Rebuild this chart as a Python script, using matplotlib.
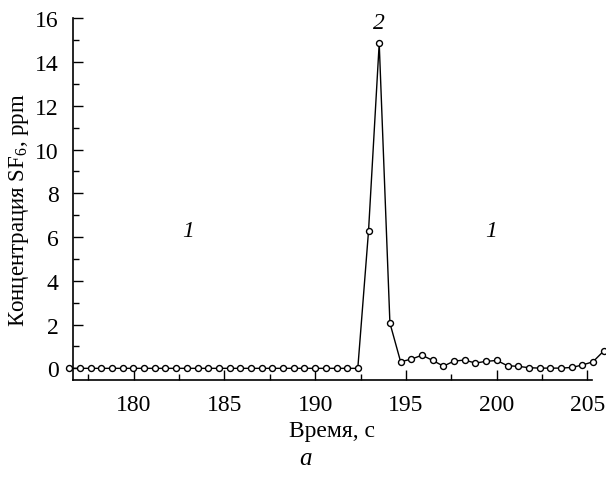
import matplotlib
matplotlib.use("Agg")
from matplotlib import pyplot as plt
from matplotlib.ticker import MultipleLocator

plt.rcParams['font.family'] = ['Liberation Serif', 'DejaVu Serif']
plt.rcParams['mathtext.fontset'] = 'custom'
plt.rcParams['mathtext.rm'] = 'Liberation Serif'
plt.rcParams['mathtext.it'] = 'Liberation Serif:italic'

# время, с
vremya = [176.45, 177.04, 177.63, 178.22, 178.81, 179.40, 179.98, 180.57,
          181.16, 181.75, 182.34, 182.93, 183.52, 184.11, 184.70, 185.29,
          185.87, 186.46, 187.05, 187.64, 188.23, 188.82, 189.41, 190.00,
          190.59, 191.18, 191.76, 192.35, 192.94, 193.53, 194.12, 194.71,
          195.30, 195.89, 196.48, 197.07, 197.65, 198.24, 198.83, 199.42,
          200.01, 200.60, 201.19, 201.78, 202.37, 202.96, 203.54, 204.13,
          204.72, 205.31, 205.90]
# концентрация SF6, ppm
konc = [0.0, 0.0, 0.0, 0.0, 0.0, 0.0, 0.0, 0.0,
        0.0, 0.0, 0.0, 0.0, 0.0, 0.0, 0.0, 0.0,
        0.0, 0.0, 0.0, 0.0, 0.0, 0.0, 0.0, 0.0,
        0.0, 0.0, 0.0, 0.0, 6.26, 14.86, 2.07, 0.30,
        0.42, 0.60, 0.36, 0.10, 0.33, 0.38, 0.24, 0.32,
        0.36, 0.12, 0.09, 0.03, 0.01, 0.01, 0.01, 0.04,
        0.15, 0.30, 0.79]

xticks = [180, 185, 190, 195, 200, 205]
yticks = [0, 2, 4, 6, 8, 10, 12, 14, 16]

fig = plt.figure(figsize=(6.06, 4.81), dpi=100)
ax = fig.add_axes([0.120, 0.2085, 0.8564, 0.7514])

ax.plot(vremya, konc, color='black', linewidth=1.0, marker='o', markersize=4.3,
        markerfacecolor='white', markeredgecolor='black', markeredgewidth=1.0,
        clip_on=False, zorder=3)

ax.set_xlim(176.64, 205.24)
ax.set_ylim(-0.52, 16)
ax.set_xticks(xticks)
ax.set_yticks(yticks)
ax.xaxis.set_minor_locator(MultipleLocator(2.5))
ax.yaxis.set_minor_locator(MultipleLocator(1))
ax.tick_params(which='major', direction='in', length=7, width=1.0, labelsize=17, pad=10)
ax.tick_params(which='minor', direction='in', length=4, width=1.0)
ax.spines['top'].set_visible(False)
ax.spines['right'].set_visible(False)
for s in ('left', 'bottom'):
    ax.spines[s].set_linewidth(1.2)

ax.set_xlabel('Время, с', fontsize=17, labelpad=4)
ax.set_ylabel('Концентрация SF$_6$, ppm', fontsize=16.5)
ax.yaxis.set_label_coords(-0.08, 0.472)

ax.text(183.0, 6.3, '1', fontsize=17, style='italic', ha='center', va='center')
ax.text(199.7, 6.3, '1', fontsize=17, style='italic', ha='center', va='center')
ax.text(193.5, 15.8, '2', fontsize=17, style='italic', ha='center', va='center')

fig.text(306 / 606, 1 - 459 / 481, 'a', fontsize=18, style='italic', ha='center', va='center')

fig.savefig('out.png', dpi=100)
